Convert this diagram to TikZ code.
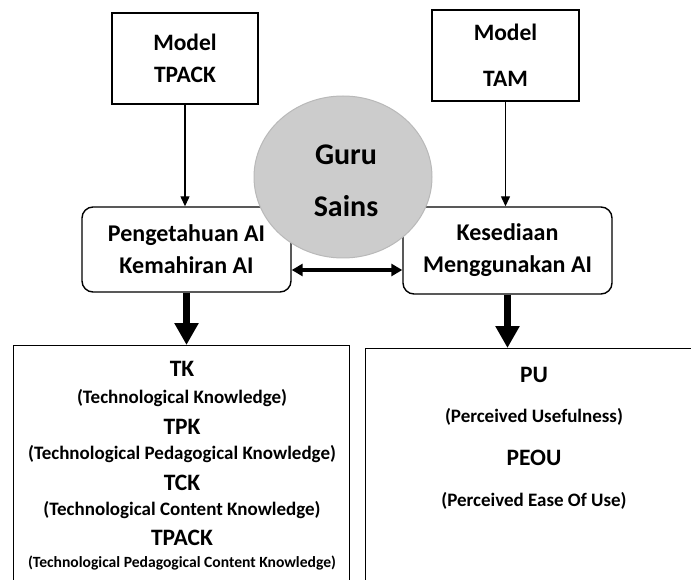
\documentclass[tikz,border=0pt]{standalone}
\usepackage{fontspec}
\setmainfont{Carlito}
\usetikzlibrary{shapes.geometric,arrows.meta}
\definecolor{circfill}{RGB}{204,204,204}
\definecolor{circline}{RGB}{185,185,185}
\tikzset{
  topbox/.style={draw=black,line width=1.4pt,rectangle,inner sep=0pt,align=center,font=\fontsize{23.5}{32}\selectfont\bfseries},
  midbox/.style={draw=black,line width=1.4pt,rectangle,rounded corners=11pt,inner sep=0pt,align=center,font=\fontsize{24}{32}\selectfont\bfseries},
  botbox/.style={draw=black,line width=1.4pt,rectangle,inner sep=0pt},
  head/.style={font=\fontsize{23.5}{26}\selectfont\bfseries,inner sep=0pt},
  sub/.style={font=\fontsize{19}{21}\selectfont\bfseries,inner sep=0pt},
  subsmall/.style={font=\fontsize{15.6}{17}\selectfont\bfseries,inner sep=0pt},
  thinarrow/.style={line width=1.3pt,-{Triangle[length=10pt,width=9pt]}},
  thickarrow/.style={line width=7pt,-{Triangle[length=22pt,width=23pt]}},
  dblarrow/.style={line width=3.5pt,{Triangle[length=11pt,width=12pt]}-{Triangle[length=11pt,width=12pt]}},
}
\begin{document}
\begin{tikzpicture}[x=1pt,y=-1pt]
\clip (0,0) rectangle (691,580);
\useasboundingbox (0,0) rectangle (691,580);
% top model boxes
\node[topbox,minimum width=146pt,minimum height=91pt] (tpack) at (185,58.5) {Model\\TPACK};
\node[topbox,minimum width=147pt,minimum height=91pt,font=\fontsize{23.5}{46}\selectfont\bfseries] (tam) at (505.5,55.5) {Model\\TAM};
% middle rounded boxes
\node[midbox,minimum width=209pt,minimum height=85pt] (pa) at (186.5,249.5) {\raisebox{-3pt}{\parbox{205pt}{\centering Pengetahuan AI\\Kemahiran AI}}};
\node[midbox,minimum width=209pt,minimum height=87pt] (ka) at (507.5,250.5) {\raisebox{-3pt}{\parbox{205pt}{\centering Kesediaan\\Menggunakan AI}}};
% central ellipse
\node[ellipse,draw=circline,fill=circfill,line width=1pt,minimum width=178pt,minimum height=162pt,inner sep=0pt] (guru) at (343,177) {};
\node[font=\fontsize{30}{52}\selectfont\bfseries,align=center,inner sep=0pt] (gurutxt) at (346,181) {Guru\\Sains};
% bottom boxes (extending beyond the visible area)
\node[botbox,minimum width=336pt,minimum height=260pt,anchor=north west] (bl) at (13,345) {};
\node[botbox,minimum width=340pt,minimum height=260pt,anchor=north west] (br) at (365,348) {};
% bottom left texts
\node[head] (tk) at (182,369) {TK};
\node[sub] (tkd) at (182,398) {(Technological Knowledge)};
\node[head] (tpk) at (182,427) {TPK};
\node[sub] (tpkd) at (182,454) {(Technological Pedagogical Knowledge)};
\node[head] (tck) at (182,483) {TCK};
\node[sub] (tckd) at (182,510) {(Technological Content Knowledge)};
\node[head] (tpackb) at (182,538) {TPACK};
\node[subsmall] (tpackd) at (182,563) {(Technological Pedagogical Content Knowledge)};
% bottom right texts
\node[head] (pu) at (534,375) {PU};
\node[sub] (pud) at (534,417) {(Perceived Usefulness)};
\node[head] (peou) at (534,458) {PEOU};
\node[sub] (peoud) at (534,501) {(Perceived Ease Of Use)};
% connectors
\draw[thinarrow] (tpack.south) -- (tpack.south |- pa.north);
\draw[thinarrow] (tam.south) -- (tam.south |- ka.north);
\draw[thickarrow] (pa.south) -- (pa.south |- bl.north);
\draw[thickarrow] (ka.south) -- (ka.south |- br.north);
\draw[dblarrow] (pa.east |- 0,270) -- (ka.west |- 0,270);
\end{tikzpicture}
\end{document}
